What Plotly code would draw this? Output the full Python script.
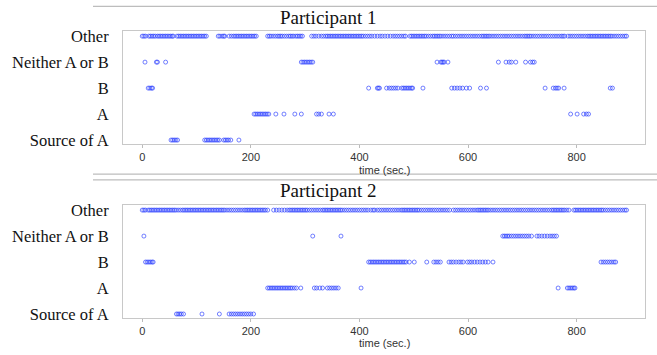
import plotly.graph_objects as go

categories = ["Source of A", "A", "B", "Neither A or B", "Other"]
x_ticks = [0, 200, 400, 600, 800]
titles = ["Participant 1", "Participant 2"]
x_label = "time (sec.)"

# ---------------- Participant 1 (event times in seconds) ----------------
p1_other = [0, 3, 6, 12, 15, 18, 21, 24, 28, 31, 34, 37, 40, 43, 46, 49, 52, 55, 57,
            64, 67, 70, 73, 76, 79, 82, 85, 88, 91, 94, 97, 100, 103, 106, 109, 112, 115, 118,
            140, 143, 147, 150, 152,
            160, 164, 168, 171, 174, 177, 180, 183, 186, 189, 192, 195, 198, 201, 204, 207, 210,
            231, 234, 237, 241, 245, 249, 252, 255, 258, 262, 266, 270, 273, 276, 279, 283, 286, 289, 292, 295,
            312, 316, 320, 325, 330, 334, 338, 341, 344, 347, 350, 353, 356, 359, 362, 365, 368, 371, 374, 377,
            380, 383, 386, 389, 392, 395, 398, 401, 404, 407, 411, 415, 419, 423, 428, 433, 438, 442, 447, 452,
            457, 462, 466, 470, 474, 478, 482, 485,
            493, 496, 499, 502, 505, 508, 511, 514, 517, 520, 523, 527, 531, 535, 538, 541, 544, 547, 550, 554,
            558, 562, 566, 570, 573,
            577, 581, 585, 589, 593, 597, 601, 605, 609, 613, 617, 621, 625, 628, 631, 634, 637, 640, 644, 648,
            652, 656, 660, 664, 668, 672, 676, 680, 684, 688, 692, 696, 700, 704, 707, 710, 713, 716, 720, 724,
            728, 732, 736, 740, 744, 748, 752, 756, 760, 764, 768, 772, 775, 778,
            784, 788, 792, 796, 800, 804, 808, 812, 816, 820, 823, 826, 829, 832, 835, 838, 841, 844, 847, 850,
            853, 856, 859, 862, 865, 869, 873, 877, 881, 885, 889, 892]
p1_neither = [5, 26, 28, 43, 293, 296, 299, 302, 305, 308, 311, 314, 543, 550, 552, 554, 556, 563,
              656, 670, 676, 680, 688, 706, 715, 719, 722]
p1_b = [11, 14, 17, 19, 417, 433, 435, 437, 450, 455, 459, 463, 467, 471, 478, 481, 484, 487, 490, 493,
        496, 498, 517, 570, 575, 580, 585, 590, 597, 603, 623, 634, 742, 757, 761, 764, 767, 777, 862, 866]
p1_a = [206, 209, 212, 215, 218, 221, 224, 227, 230, 233, 246, 261, 281, 293, 321, 325, 330, 344, 352,
        789, 801, 813, 818, 822]
p1_source = [53, 56, 59, 62, 65, 115, 118, 121, 124, 127, 130, 133, 136, 139, 142, 150, 153, 156, 159, 163, 178]

# ---------------- Participant 2 ----------------
p2_other = [0, 3, 6,
            11, 14, 17, 20, 23, 26, 29, 32, 35, 38, 41, 44, 47, 50, 53, 56, 59, 62, 66, 70, 74, 77, 80, 83, 86,
            89, 92, 95, 98, 101, 104, 107, 110, 113, 116, 119, 122, 125, 128, 131, 134, 137, 140, 143, 146, 149,
            152, 156, 160, 164, 168, 172, 176, 180, 184, 188, 191, 194, 197, 200, 203, 206, 209, 212, 215, 218,
            221, 224, 227, 231,
            242, 247, 252, 257, 262, 267, 271, 274, 277, 280, 283, 286, 289, 292, 295, 298, 301, 304,
            308, 312, 316, 320, 324, 328, 332, 335, 338, 341, 344, 347, 350, 353, 356, 359, 362, 365, 368, 372,
            376, 380, 384, 388, 392, 396, 400, 404, 408, 412, 416,
            421, 425, 428,
            433, 437, 441, 445, 449, 453, 457, 461, 465, 469, 473, 477, 480, 483, 486, 489, 492, 495, 498, 501,
            504, 507, 510, 514, 518, 522, 526, 530, 534, 538, 542, 546, 550, 554, 558, 562, 566,
            573, 577, 581, 585, 589, 593, 597, 601, 605, 609, 613, 617, 620, 623, 626, 629, 632, 635, 638, 642,
            646, 650, 654, 658, 662, 666, 670, 674, 678, 682, 686, 690, 694, 698, 702, 706, 710, 714, 718, 722,
            726, 730, 734, 738, 742, 746, 750, 754, 757, 760, 763, 766, 769, 772, 775, 778, 782, 786,
            795, 798, 801, 804, 807, 810, 813, 816, 819, 822, 825, 828, 831, 834, 837, 840, 843, 846, 849, 853,
            857, 861, 865, 869, 873, 877, 881, 885, 889, 892]
p2_neither = [3, 314, 366, 664, 667, 670, 673, 676, 680, 684, 688, 692, 696, 700, 704, 708, 712, 717,
              727, 731, 736, 741, 746, 751, 755, 759, 763]
p2_b = [6, 9, 12, 15, 18, 20, 417, 420, 423, 426, 429, 432, 435, 438, 441, 444, 447, 450, 453, 456, 459,
        462, 465, 468, 471, 474, 477, 480, 483, 486, 492, 501, 524, 537, 541, 545, 549, 565, 569, 573, 578,
        583, 587, 591, 599, 603, 607, 612, 617, 622, 627, 632, 637, 646, 845, 849, 853, 857, 861, 865, 869, 872]
p2_a = [231, 234, 237, 240, 243, 246, 249, 252, 255, 258, 261, 264, 267, 270, 273, 276, 280, 284, 292,
        317, 321, 327, 332, 341, 345, 349, 353, 357, 361, 403, 766, 783, 786, 789, 792, 795, 797]
p2_source = [63, 66, 69, 72, 76, 110, 142, 160, 164, 168, 172, 176, 180, 184, 188, 192, 196, 200, 205]

participants = [
    {"Other": p1_other, "Neither A or B": p1_neither, "B": p1_b, "A": p1_a, "Source of A": p1_source},
    {"Other": p2_other, "Neither A or B": p2_neither, "B": p2_b, "A": p2_a, "Source of A": p2_source},
]

W, H = 657, 355
MARK = "rgba(40,60,255,0.65)"
SERIF = "Liberation Serif, Times New Roman, serif"
SANS = "Liberation Sans, Arial, sans-serif"

fig = go.Figure()
for i, data in enumerate(participants):
    xa = "x" if i == 0 else "x2"
    ya = "y" if i == 0 else "y2"
    for cat in categories:
        xs = data[cat]
        fig.add_trace(go.Scatter(
            x=xs, y=[cat] * len(xs), mode="markers", xaxis=xa, yaxis=ya,
            marker=dict(symbol="circle-open", size=4, color=MARK, line=dict(width=1, color=MARK)),
            showlegend=False, hoverinfo="x+y"))

def px_y(p):
    return 1 - p / H

xdom = [123 / W, 645 / W]
doms = [[px_y(144), px_y(28)], [px_y(323), px_y(207)]]

for i in range(2):
    sfx = "" if i == 0 else "2"
    fig.layout["xaxis" + sfx] = dict(
        domain=xdom, range=[-35.5, 926], anchor="y" + sfx,
        tickvals=x_ticks, ticks="outside", ticklen=3, tickcolor="#bbbbbb",
        showgrid=False, zeroline=False, showline=True, linecolor="#c8c8c8", linewidth=1, mirror=True,
        tickfont=dict(family=SANS, size=11, color="#333333"))
    fig.layout["yaxis" + sfx] = dict(
        domain=doms[i], type="category", categoryorder="array", categoryarray=categories,
        range=[-0.15, 4.19], anchor="x" + sfx,
        showgrid=False, zeroline=False, showline=True, linecolor="#c8c8c8", linewidth=1, mirror=True,
        ticks="", ticklabelstandoff=10,
        tickfont=dict(family=SERIF, size=16.5, color="#111111"))

annotations = []
title_y = [14, 192]
label_y = [170.5, 348.5]
for i in range(2):
    annotations.append(dict(text=titles[i], x=0.5, y=px_y(title_y[i]), xref="paper", yref="paper",
                            xanchor="center", yanchor="middle", showarrow=False,
                            font=dict(family=SERIF, size=19, color="#111111")))
    annotations.append(dict(text=x_label, x=(xdom[0] + xdom[1]) / 2, y=px_y(label_y[i]),
                            xref="paper", yref="paper", xanchor="center", yanchor="middle",
                            showarrow=False, font=dict(family=SANS, size=11, color="#333333")))

shapes = []
for yp in [2.5, 175, 181]:
    shapes.append(dict(type="line", xref="paper", yref="paper", x0=93 / W, x1=1,
                       y0=px_y(yp), y1=px_y(yp), line=dict(color="#bdbdbd", width=1.2)))

fig.update_layout(width=W, height=H, margin=dict(l=0, r=0, t=0, b=0),
                  paper_bgcolor="white", plot_bgcolor="white",
                  annotations=annotations, shapes=shapes)

fig.write_html("out.html")
